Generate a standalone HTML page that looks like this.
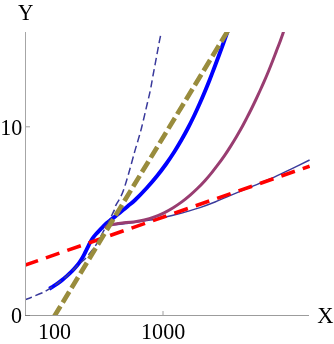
<!DOCTYPE html>
<html><head><meta charset="utf-8">
<style>
html,body{margin:0;padding:0;background:#fff;}
body{width:334px;height:344px;overflow:hidden;}
svg{display:block;will-change:transform;}
text{font-family:"Liberation Serif",serif;font-size:22.5px;fill:#000;}
</style></head><body>
<svg width="334" height="344" viewBox="0 0 334 344">
<rect width="334" height="344" fill="#fff"/>
<defs><clipPath id="c"><rect x="25" y="32" width="285" height="283.5"/></clipPath></defs>
<g clip-path="url(#c)" fill="none" stroke-linecap="butt" stroke-linejoin="round">
<path d="M112.00 224.80 C113.33 224.73 117.33 224.65 120.00 224.40 C122.67 224.15 125.50 223.65 128.00 223.30 C130.50 222.95 132.42 222.68 135.00 222.30 C137.58 221.92 140.58 221.42 143.50 221.00 C146.42 220.58 149.18 220.37 152.50 219.80 C155.82 219.23 159.50 218.48 163.40 217.60 C167.30 216.72 171.87 215.55 175.90 214.50 C179.93 213.45 183.58 212.45 187.60 211.30 C191.62 210.15 195.43 209.15 200.00 207.60 C204.57 206.05 210.00 204.00 215.00 202.00 C220.00 200.00 224.17 198.05 230.00 195.60 C235.83 193.15 243.33 190.07 250.00 187.30 C256.67 184.53 263.33 181.95 270.00 179.00 C276.67 176.05 283.40 172.77 290.00 169.60 C296.60 166.43 306.33 161.60 309.60 160.00" stroke="#3a3a9c" stroke-width="1.4"/>
<path d="M49.20 288.70 C49.67 288.43 50.70 287.90 52.00 287.10 C53.30 286.30 55.33 285.07 57.00 283.90 C58.67 282.73 60.33 281.43 62.00 280.10 C63.67 278.77 65.33 277.38 67.00 275.90 C68.67 274.42 70.50 272.72 72.00 271.20 C73.50 269.68 74.75 268.28 76.00 266.80 C77.25 265.32 78.45 263.77 79.50 262.30 C80.55 260.83 81.45 259.43 82.30 258.00 C83.15 256.57 83.87 255.13 84.60 253.70 C85.33 252.27 86.00 250.83 86.70 249.40 C87.40 247.97 88.08 246.52 88.80 245.10 C89.52 243.68 90.22 242.22 91.00 240.90 C91.78 239.58 92.62 238.38 93.50 237.20 C94.38 236.02 95.30 234.95 96.30 233.80 C97.30 232.65 98.40 231.47 99.50 230.30 C100.60 229.13 101.73 227.97 102.90 226.80 C104.07 225.63 105.28 224.38 106.50 223.30 C107.72 222.22 108.95 221.28 110.20 220.30 C111.45 219.32 112.62 218.48 114.00 217.40 C115.38 216.32 117.00 215.02 118.50 213.80 C120.00 212.58 121.42 211.40 123.00 210.10 C124.58 208.80 125.98 207.68 128.00 206.00 C130.02 204.32 131.98 203.00 135.10 200.00 C138.22 197.00 143.05 192.00 146.70 188.00 C150.35 184.00 153.77 180.00 157.00 176.00 C160.23 172.00 163.23 168.00 166.10 164.00 C168.97 160.00 171.65 156.00 174.20 152.00 C176.75 148.00 179.10 144.00 181.40 140.00 C183.70 136.00 185.90 132.00 188.00 128.00 C190.10 124.00 192.08 120.00 194.00 116.00 C195.92 112.00 197.72 108.00 199.50 104.00 C201.28 100.00 203.02 96.00 204.70 92.00 C206.38 88.00 208.02 84.00 209.60 80.00 C211.18 76.00 212.68 72.00 214.20 68.00 C215.72 64.00 217.22 60.00 218.70 56.00 C220.18 52.00 221.65 48.00 223.10 44.00 C224.55 40.00 226.62 34.17 227.40 32.00 C228.18 29.83 227.73 31.17 227.80 31.00" stroke="#0000ff" stroke-width="3.9"/>
<path d="M24.50 265.27 L309.60 166.20" stroke="#ff0000" stroke-width="3.6" stroke-dasharray="14.3 8.36"/>
<path d="M25.00 299.70 C26.10 299.28 28.80 298.32 31.60 297.20 C34.40 296.08 39.40 294.05 41.80 293.00 C44.20 291.95 44.30 291.88 46.00 290.90 C47.70 289.92 50.17 288.27 52.00 287.10 C53.83 285.93 55.33 285.07 57.00 283.90 C58.67 282.73 60.33 281.43 62.00 280.10 C63.67 278.77 65.33 277.38 67.00 275.90 C68.67 274.42 70.50 272.70 72.00 271.20 C73.50 269.70 74.75 268.20 76.00 266.90 C77.25 265.60 78.50 264.28 79.50 263.40 C80.50 262.52 81.08 262.33 82.00 261.60 C82.92 260.87 83.85 260.22 85.00 259.00 C86.15 257.78 87.58 255.92 88.90 254.30 C90.22 252.68 91.77 250.78 92.90 249.30 C94.03 247.82 94.95 246.53 95.70 245.40 C96.45 244.27 96.80 243.57 97.40 242.50 C98.00 241.43 98.50 240.48 99.30 239.00 C100.10 237.52 101.33 235.20 102.20 233.60 C103.07 232.00 103.62 231.08 104.50 229.40 C105.38 227.72 107.00 224.48 107.50 223.50" stroke="#3a3a9c" stroke-width="1.5" stroke-dasharray="7.4 3.85"/>
<path d="M160.80 33.00 C160.75 33.47 160.78 34.17 160.50 35.80 C160.22 37.43 159.67 39.82 159.10 42.80 C158.53 45.78 158.10 48.33 157.10 53.70 C156.10 59.07 154.22 68.95 153.10 75.00 C151.98 81.05 151.35 85.33 150.40 90.00 C149.45 94.67 148.88 96.67 147.40 103.00 C145.92 109.33 143.02 121.93 141.50 128.00 C139.98 134.07 139.50 135.23 138.30 139.40 C137.10 143.57 135.88 147.40 134.30 153.00 C132.72 158.60 130.63 166.70 128.80 173.00 C126.97 179.30 124.87 186.45 123.30 190.80 C121.73 195.15 120.65 196.67 119.40 199.10 C118.15 201.53 116.63 203.60 115.80 205.40 C114.97 207.20 115.07 208.25 114.40 209.90 C113.73 211.55 112.90 213.03 111.80 215.30 C110.70 217.57 108.47 222.13 107.80 223.50" stroke="#3a3a9c" stroke-width="1.5" stroke-dasharray="7.4 3.88" stroke-dashoffset="-2.82"/>
<path d="M105.00 228.30 C105.25 228.05 105.67 227.32 106.50 226.80 C107.33 226.28 108.75 225.63 110.00 225.20 C111.25 224.77 112.67 224.48 114.00 224.20 C115.33 223.92 116.60 223.72 118.00 223.50 C119.40 223.28 119.80 223.17 122.40 222.90 C125.00 222.63 129.95 222.38 133.60 221.90 C137.25 221.42 140.82 220.83 144.30 220.00 C147.78 219.17 151.20 218.10 154.50 216.90 C157.80 215.70 160.98 214.33 164.10 212.80 C167.22 211.27 170.25 209.52 173.20 207.70 C176.15 205.88 179.02 203.95 181.80 201.90 C184.58 199.85 187.27 197.67 189.90 195.40 C192.53 193.13 195.10 190.75 197.60 188.30 C200.10 185.85 202.53 183.32 204.90 180.70 C207.27 178.08 209.57 175.35 211.80 172.60 C214.03 169.85 216.18 167.03 218.30 164.20 C220.42 161.37 222.48 158.53 224.50 155.60 C226.52 152.67 228.48 149.62 230.40 146.60 C232.32 143.58 234.18 140.55 236.00 137.50 C237.82 134.45 239.58 131.40 241.30 128.30 C243.02 125.20 244.67 122.03 246.30 118.90 C247.93 115.77 249.53 112.65 251.10 109.50 C252.67 106.35 254.20 103.17 255.70 100.00 C257.20 96.83 258.65 93.68 260.10 90.50 C261.55 87.32 263.00 84.12 264.40 80.90 C265.80 77.68 267.17 74.43 268.50 71.20 C269.83 67.97 271.12 64.77 272.40 61.50 C273.68 58.23 274.93 54.90 276.20 51.60 C277.47 48.30 278.77 45.03 280.00 41.70 C281.23 38.37 283.00 33.28 283.60 31.60" stroke="#993d71" stroke-width="3"/>
<path d="M54.19 316.50 L227.74 31.00" stroke="#998c3d" stroke-width="4.7" stroke-dasharray="12.5 4.45" stroke-dashoffset="0.5"/>
</g>
<!-- axes -->
<g stroke-width="1" fill="none">
<line x1="25.5" y1="32" x2="25.5" y2="316" stroke="#a6a6a6"/>
<line x1="25" y1="315.5" x2="309" y2="315.5" stroke="#9c9c9c"/>
<line x1="26" y1="126.8" x2="30" y2="126.8" stroke="#a0a0a0"/>
<line x1="163" y1="311" x2="163" y2="315" stroke="#a0a0a0"/>
<line x1="25" y1="315.5" x2="30" y2="315.5" stroke="#7a7a7a"/>
</g>
<text transform="translate(18.1,20.4) scale(0.95,1.03)">Y</text>
<text transform="translate(317.2,322.9) scale(1.0,1.03)">X</text>
<text transform="translate(0.2,134.8) scale(0.98,1.045)">10</text>
<text transform="translate(11.1,322.9) scale(0.98,1.045)">0</text>
<text transform="translate(38.0,338.8) scale(0.98,1.045)">100</text>
<text transform="translate(141.1,338.8) scale(0.98,1.045)">1000</text>
</svg>
</body></html>
